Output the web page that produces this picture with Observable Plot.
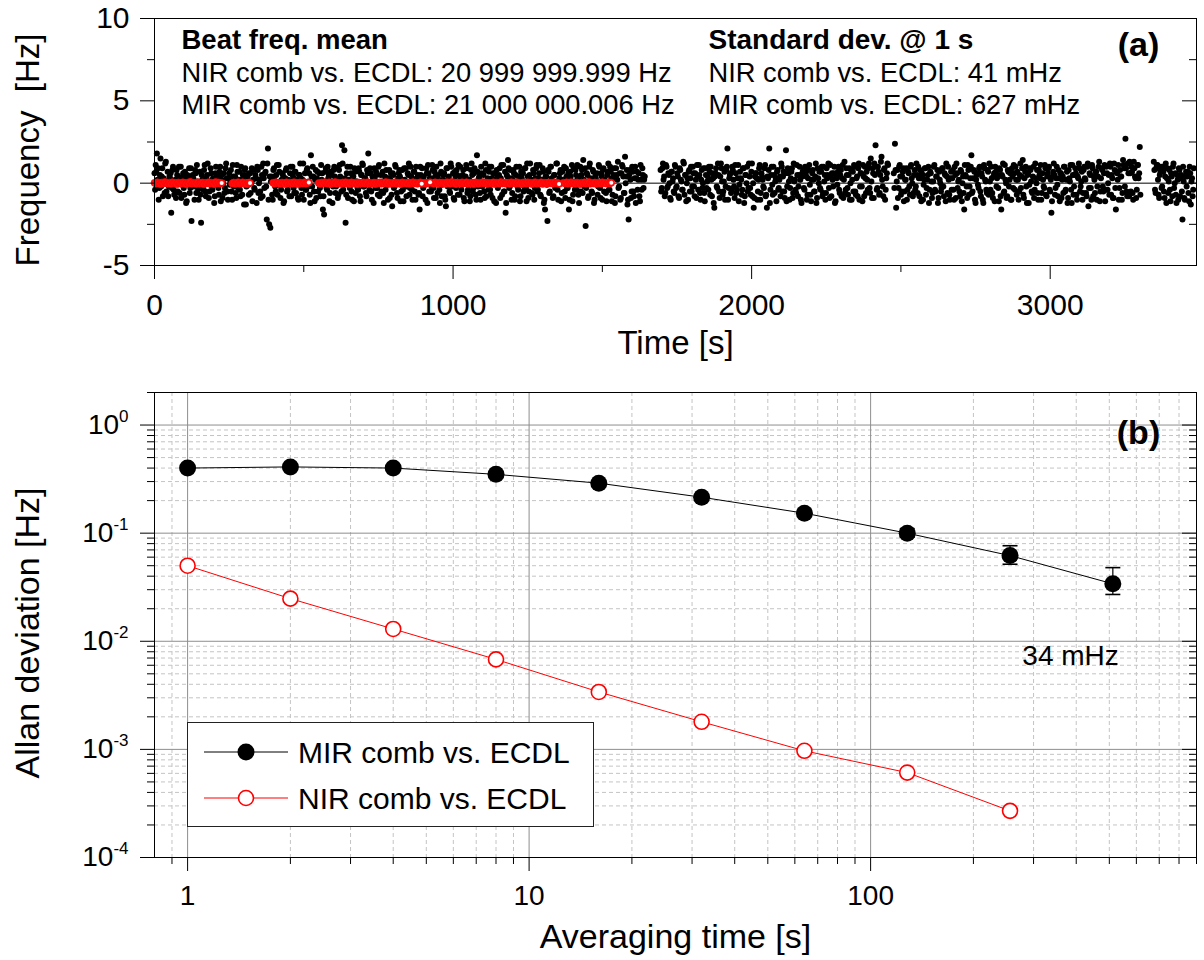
<!DOCTYPE html>
<html><head><meta charset="utf-8">
<script src="https://cdn.jsdelivr.net/npm/d3@7"></script>
<script src="https://cdn.jsdelivr.net/npm/@observablehq/plot@0.6"></script>
<style>
body{margin:0;background:#fff;}
#wrap{position:relative;width:1204px;height:960px;background:#fff;}
#wrap svg{display:block}
</style></head><body><div id="wrap"></div>
<script>
const FONT = '"Liberation Sans", Arial, Helvetica, sans-serif';

// ---------- Panel (a): beat frequency time series (offset from mean, Hz) ----------
// MIR comb vs. ECDL: segments sampled every mirStep seconds; second set interleaved (+2 s)
const mirStep = 4;
const mirSegStart = [0, 1695, 2476, 3347];
const mirSegA = [
.6,1.1,1.8,.9,-.3,1.5,.4,-.8,.2,1.2,-.5,.7,-.2,.3,-1.8,.8,-.4,.1,-.9,.5,
.3,-.6,1.0,-.1,.6,-.7,.2,-1.1,.4,.9,-.3,-2.3,.5,-.2,.8,-.6,.1,-1.0,.7,-2.4,
.2,-.4,1.1,-.8,.5,.0,-.5,.9,-.2,.3,-1.2,.6,-.1,.4,-.7,1.0,.2,-.9,.6,-.3,
1.2,-.5,.3,-.1,.8,-1.0,.4,.1,-.6,1.1,-.3,.7,-.8,.2,.5,-1.3,.9,-.2,.4,-.7,
.6,.0,-1.1,.8,-.4,.3,1.0,-.6,.2,-.9,.5,1.2,-.3,.7,-2.2,2.1,-2.5,-2.7,.4,-1.0,
.9,-.2,.5,-.7,1.1,.1,-.4,.6,-1.2,.3,.8,-.5,.2,-.8,1.0,-.1,.4,-.6,.7,.0,
-.9,.5,1.2,-.3,.2,-1.0,.6,-.4,.9,.1,-.7,1.7,-.2,.4,-1.1,.8,.3,-.5,.6,-.8,
.2,-1.6,-1.9,.7,-.3,1.0,.5,-.6,.1,-1.2,.8,.4,-.2,.9,-.7,1.1,.3,2.3,-.4,2.0,
-2.4,.6,-.9,.2,1.0,-.5,.4,-1.1,.7,.1,-.3,.9,-.8,.5,1.2,-.2,.3,-.6,.8,1.8,
-.4,.6,-1.0,.2,.9,-.3,.5,-.7,1.1,.0,-.5,.7,-1.2,.4,.8,-.1,.3,-.9,.6,-1.4,
.5,-.2,1.0,-.6,.3,.8,-1.1,.2,-.4,.9,.1,-.8,.6,1.2,-.3,.4,-1.0,.7,-.5,1.0,
.2,-.7,-1.6,.5,.9,-.3,.1,-1.0,.6,1.1,-.5,.3,-.2,.8,-.9,.4,1.0,-.6,.2,-1.2,
.7,-.1,.5,-.8,-1.4,.9,.3,-.5,1.2,-.2,.6,-1.0,.4,.8,-.7,.1,1.0,-.4,.5,-.9,
.3,1.1,-.6,.2,-1.1,.8,.5,-.3,.9,-.7,1.7,-.2,.4,-1.0,.6,.1,-.5,1.2,-.8,.3,
.7,-.4,1.0,-.9,.2,.6,-1.2,.4,-.1,.9,.3,-.7,1.1,-.5,-1.8,.5,1.4,-.3,.8,-1.0,
.2,.6,-.8,1.0,-.2,.4,-1.1,.7,.1,-.5,.9,-.3,1.2,-.9,.5,.0,-.6,.8,-1.0,.3,
1.1,-.4,.6,-.7,.2,.9,-1.2,-1.6,.4,-2.3,.7,-.5,1.0,.1,-.8,.5,-.2,1.2,-1.0,.3,
.8,-.6,.2,1.0,-.9,.4,-.3,-1.6,.7,.1,-1.1,.9,-.4,.5,1.1,-.7,.2,-.5,.8,1.4,
-.2,-2.6,.6,-.9,1.0,.3,-.5,.8,-1.2,.4,.1,-.7,1.1,-.3,.6,-1.0,.9,.2,-.6,.5,
1.2,-.4,.7,-1.1,.3,.9,-.8,.5,1.3,-.2,-1.0,.6,1.0,-.6,1.6,.4,-1.3,-2.2,.8,-.9,
1.0,-.5,.3,-1.2,.7,.2,-.8,1.1,-.4,.5,.2];
const mirSegB = [
.8,-.3,1.2,.4,-.6,1.0,-.2,.5,-.9,.7,.1,-.5,1.1,-.3,.6,-.8,.9,.2,-.4,1.3,
-.7,.5,.0,-1.0,.8,.3,-.5,1.0,-.2,.6,-.9,.4,1.1,-.6,.2,-.3,.9,-1.1,.5,.1,
-.4,.7,1.0,-.8,.3,-1.5,.6,-.2,1.2,-.5,.4,.9,-.7,.1,-1.0,.8,2.1,-.3,.5,-.6,
1.0,.2,-.9,.6,-.4,1.1,-.1,.3,-.7,.9,-1.2,.5,.0,-.5,1.2,-.3,.7,-.8,-1.5,.4,
.6,-1.0,.2,1.1,-.6,.4,-.2,.9,-.8,-1.5,.3,2.1,-.4,1.0,-.7,.5,.1,-1.1,.8,-.3,
.4,1.2,-.5,.7,-.9,2.0,-.2,.6,-1.0,.3,.9,-.6,.1,-.4,1.1,-.8,.5,.2,-1.2,.7,
-.3,1.0,.4,-.7,.8,-.1,-1.1,.6,.2,-.5,1.2,-.9,.3,.7,-.4,1.0,-.6,.1,-1.0,.9,
.5,-.3,1.1,-.8,.2,.6,-1.2,.4,-.1,1.0,-.6,.8,.3,-.9,1.3,-.4,.5,-.7,.9,.0,
-1.0,.7,1.1,-.5,.3,-.8,1.2,-.2,.6,-1.1,.4,1.0,-.6,.2,.9,-.3,1.5,-.9,.6,1.2,
2.3,-.4,1.0,-.7,.5,1.6,-.2,.8,-1.0,.3,1.2];
const mirSegC = [
.6,2.4,-1.5,.8,-.3,1.1,-.7,.4,.9,-.5,.2,-1.0,.7,-.2,1.0,.3,-.8,.5,-.4,1.2,
-.6,.3,.8,-1.1,.5,-.1,.9,-.7,.2,1.0,-.4,.6,-.9,.1,1.1,-.5,.4,-1.2,.7,.0,
-.3,.9,-.8,.5,1.2,-.6,.2,-1.0,.7,.3,-.4,1.0,-.9,.6,.1,-.5,.8,-1.1,.4,-1.6,
.5,-.2,1.1,-.7,.3,1.7,-.5,.8,-1.0,.2,.6,-.3,1.0,-.8,.4,-1.2,.9,.1,-.6,.7,
1.2,-.4,.3,-.9,.6,1.0,-.2,.5,-1.1,.8,-1.6,.4,-.6,1.1,.0,-.8,.7,.2,-1.0,.9,
-.3,.6,1.0,-.7,.2,-.5,1.2,.4,1.4,-.9,.7,-.2,.5,-1.2,.9,.1,-.6,1.0,-.4,.3,
.8,-1.0,.5,1.1,-.6,.2,-.3,.9,-.8,.6,1.0,-.5,-1.8,.4,1.2,-.7,.3,-.1,.8,-1.1,
.6,.2,-.6,1.0,-.4,.7,-.9,.3,1.1,-1.2,.5,-.2,.9,-.7,.4,1.2,-.5,.1,-1.0,.8,
.3,-.6,1.0,-1.4,.6,-.3,1.1,-.8,.2,.7,-1.0,.4,1.3,-.5,.9,-.2,.6,-1.1,1.0,-.4,
.5,1.2,-.7,.3,-.9,.8,-1.6,.6,1.1,-.3,.4,-1.0,1.4,.9,2.7,-.5,1.2,-.8,.6,1.0,
-.6,1.3,.4,-.9,1.1,.3,2.2];
const mirSegD = [
1.3,-.4,.9,1.1,-.7,.5,1.0,-.2,.7,-.9,1.2,.3,-.6,.8,-1.1,.4,1.0,-.3,.6,-1.2,
.2,.9,-.8,.5,-2.2,.1,-1.0,.7,.4,-.6,1.0,-1.3,.3,-.4];
const mirSegA2 = [
-.4,.7,.2,-1.0,.5,-.2,.9,.3,-.6,1.3,.0,-.8,.4,.6,-.3,1.0,-.7,.2,.8,-.5,
1.0,.1,-.9,.4,-.3,.7,-1.2,.5,.2,-.6,.9,-.1,.3,-1.0,.6,1.1,-.4,.0,-.7,.5,
-.2,.8,-.5,.3,1.2,-.9,.1,.6,-.4,.2,-.8,1.0,.4,-.3,.7,-1.1,.5,.0,-.6,.9,
.3,-1.0,.6,.1,-.5,1.1,-.2,.4,-.9,.7,.2,-.4,1.0,-.7,.3,.8,-1.3,.5,-.1,.6,
-.6,.9,.2,-.3,.5,-1.2,.8,.0,-.5,1.0,-.8,.3,.6,-.2,1.2,-1.0,.4,.1,-.7,.8,
.4,-.5,1.1,-.1,.7,-.9,.2,.5,-1.1,.3,.9,-.4,.0,.6,-.8,1.0,-.3,.7,-.6,.2,
-1.0,.5,.3,-.7,1.2,.1,-.4,.8,-.2,.6,-1.2,.4,1.0,-.5,.2,-.9,.7,.0,-.3,1.1,
.6,-.8,.1,.9,-.4,.3,-1.1,.7,.5,-.2,1.0,-.6,.2,-.9,.8,.4,-.5,1.2,-.1,.3,
-.7,1.0,.2,-.3,.6,-1.0,.4,.9,-.6,.1,-.4,.7,-1.1,.5,1.1,-.2,.3,-.8,.6,.0,
.9,-.5,.4,-1.2,.2,.7,-.3,1.0,-.8,.5,.1,-.6,1.2,-.4,.3,-1.0,.8,.2,-.7,.6,
-.3,1.1,.0,-.9,.6,.4,-.5,.8,-1.1,.2,.9,-.2,.5,-.7,1.0,-.4,.1,.7,-1.0,.3,
.5,-.6,1.0,.2,-.8,.4,-.1,.9,-1.2,.6,.3,-.5,1.1,-.3,.7,-.9,.0,.5,-.4,1.2,
-.8,.2,.6,-1.0,.9,-.2,.4,-.6,1.0,.1,-.9,.7,-.3,.5,1.1,-.7,.3,-.1,.8,-1.1,
.4,.9,-.4,.2,-.8,1.2,-.5,.6,.0,-1.0,.7,.3,-.6,1.0,-.2,.5,-.9,.8,.1,-.4,
1.0,-.7,.3,.6,-1.1,.2,.8,-.3,.5,-.9,1.1,.0,-.5,.7,-1.2,.4,.9,-.2,.3,-.6,
.8,-1.0,.5,.1,-.4,1.0,-.8,.3,.6,-.2,.9,-1.1,.4,-.5,1.2,.2,-.7,.6,-.3,.9,
-.5,.3,1.1,-.8,.2,.7,-1.0,.4,-.1,.8,-.6,1.0,.3,-.9,.5,-.3,1.2,-.4,.0,.6,
-1.1,.7,.2,-.5,.9,-.3,.6,-1.0,.4,1.1,-.7,.1,.8,-.4,.3,-1.2,1.0,.5,-.6,.2,
.9,-.3,.5,-.8,1.2,.0,-.6,.7,-1.0,.3,.6,-.2,1.0,-.9,.4,.8,-.5,.1,-1.1,.7,
-.4,1.0,.3,-.7,.5,-1.2,.9,.2,-.3,.6,-.9,1.1,.4,-.6,.0,.8,-1.0,.5,.2,-.5,
.7,-.8,1.0,.3,-.4,.6,-1.1,.2,.9,-.3,.4];
const mirSegB2 = [
-.5,.9,.2,-.8,1.1,-.3,.6,.0,-1.0,.7,.3,-.6,1.0,-.2,.4,-.9,.8,.1,-.4,1.2,
.5,-1.1,.3,.7,-.5,1.0,-.2,.6,-.8,.2,1.1,-.4,.5,-1.0,.8,.0,-.6,.9,-.3,.4,
1.0,-.7,.2,.6,-1.2,.4,.9,-.3,.5,-.9,1.2,.1,-.5,.7,-.2,1.0,-1.0,.3,.6,-.4,
.8,-.2,1.1,-.6,.3,-1.1,.7,.2,-.4,.9,-.8,.5,1.0,-.3,.4,-.7,1.2,.0,-.9,.6,
.3,-.5,.9,-1.0,.6,.2,-.3,1.1,-.7,.4,.8,-1.2,.5,-.1,1.0,-.6,.3,.7,-.4,.2,
-.8,1.0,.4,-.5,.6,-1.1,.9,.1,-.3,.7,-.9,1.2,.2,-.6,.5,-.2,1.0,-1.0,.4,.8,
-.4,.6,-1.0,.3,1.1,-.7,.2,.8,-.5,.4,-1.2,.9,.0,-.3,.7,-.8,1.0,.5,-.6,.3,
1.2,-.9,.4,.6,-.2,1.0,-1.1,.3,.7,-.4,.5,-.8,1.1,.2,-.6,.9,-.3,.5,-1.0,.8,
.2,-.5,1.0,-.7,.4,.9,-1.0,.6,-.2,1.1,-.8,.3,.7,-.4,1.2,-.6,.1,.9,-.9,.5,
1.0,-.3,.7,-.6,1.3,.2,-.8,.9,-.4,.6,1.1];
const mirSegC2 = [
-.3,.8,.1,-.9,1.0,.4,-.5,.7,-1.1,.2,.9,-.4,.6,-.7,1.1,.0,-.6,.8,-.2,.5,
1.0,-.8,.3,.6,-1.0,.2,.9,-.3,.5,-1.2,.7,.1,-.6,1.0,-.4,.4,.8,-.9,.2,-.5,
.9,-.2,.6,-1.1,.4,1.0,-.7,.3,-.4,.8,-1.0,.5,1.2,-.3,.2,-.8,.7,.0,-.6,1.1,
.4,-.9,.8,-.2,1.0,-.6,.3,.7,-1.2,.5,-.1,.9,-.5,.6,-1.0,1.1,.2,-.4,.8,-.7,
.1,1.0,-.6,.4,-1.1,.7,.3,-.3,.9,-.8,.5,1.2,-.5,.2,-.9,.8,-.2,.6,-1.0,.4,
1.1,-.4,.2,.7,-1.0,.5,-.3,.9,-.7,.3,1.0,-1.2,.6,-.1,.8,-.5,.4,-.9,1.2,.0,
-.6,.8,.3,-1.0,.6,-.2,1.1,-.7,.4,.9,-.4,.2,-1.1,.7,.5,-.3,1.0,-.8,.3,.6,
-.9,.4,1.0,-.5,.2,-1.2,.8,.1,-.4,1.1,-.7,.5,.6,-1.0,.3,.9,-.2,.7,-.6,1.0,
.2,-.8,1.2,-.3,.5,-1.0,.9,.4,-.6,.7,-.2,1.0,-1.1,.3,.8,-.5,1.1,-.4,.6,.0,
-.7,1.0,.5,-.9,1.2,-.3,.7,.2,-1.0,.8,.4,-.6,1.1,-.2,.9,-.8,.6,1.3,-.5,.7,
-1.0,.9,.3,-.4,1.1,.6,-.7];
const mirSegD2 = [
.8,-.6,1.1,.2,-.9,.7,-.3,1.0,-.5,.4,-1.2,.9,.1,-.4,.6,-.8,1.2,.0,-.7,.5,
-1.0,.8,.3,-.5,1.0,-.9,.4,-.2,.7,-1.1,.6,.1,-.8,.9];
const mirSegs = [mirSegA, mirSegB, mirSegC, mirSegD];
const mirSegs2 = [mirSegA2, mirSegB2, mirSegC2, mirSegD2];
const mirOffset2 = 2;

// NIR comb vs. ECDL: segments sampled every nirStep seconds
const nirStep = 5;
const nirSegStart = [0, 260, 397, 550, 903, 935, 1370];
const nirSeg1 = [.02,-.03,.05,.01,-.06,.04,-.02,.07,.00,-.04,.03,-.05,.06,-.01,.02,-.07,.04,.00,-.03,.05,.01,-.06,.03,-.02,.08,-.04,.02,.00,-.05,.06,-.03,.01,.04,-.07,.02,-.01,.05,-.04,.03,.00,-.06,.07,-.02,.04,-.03,.01];
const nirSeg2 = [-.02,.04,-.05,.01,.06,-.03,.00,.05,-.04,.02,-.06,.03,.01];
const nirSeg3 = [.03,-.04,.06,-.01,.02,-.05,.04,.00,-.07,.05,-.02,.03,.01,-.04,.06,-.03,.02,-.06,.04,.00,-.02,.05,-.03,.01,.04];
const nirSeg4 = [.01,-.05,.04,-.02,.06,.00,-.03,.05,-.06,.02,-.01,.07,-.04,.03,.00,-.05,.04,-.02,.06,-.03,.02,-.06,.05,.01,-.04,.03,-.07,.04,.00,-.02,.05,-.03,.02,.06,-.05,.01,-.02,.04,-.06,.03,.00,.05,-.04,.02,-.01,.07,-.03,.04,-.05,.01,-.02,.06,-.04,.03,.00,-.06,.05,-.01,.02,-.03,.04,-.05,.01,.06,-.02,.03,-.04,.00,.05,-.03];
const nirSeg5 = [.02,-.04,.03,-.01,.05];
const nirSeg6 = [-.03,.05,.01,-.06,.04,-.02,.03,.00,-.05,.06,.02,-.04,.07,-.01,.03,-.06,.04,.01,-.03,.05,-.02,.00,.06,-.05,.02,-.03,.04,-.07,.05,.01,-.04,.03,-.01,.06,-.02,.04,-.05,.02,.00,-.03,.05,-.06,.03,.01,-.04,.07,-.02,.04,-.03,.00,.02,-.05,.06,-.01,.03,-.04,.05,-.02,.01,-.06,.04,.00,-.03,.05,-.01,.02,-.06,.03,.06,-.04,.01,-.02,.05,-.05,.03,.00,-.03,.04,-.01,.02,-.04,.06,-.02,.03,-.05];
const nirSeg7 = [.03,-.02,.05,-.04,.01,.06,-.03,.02,-.05,.04,.00,-.06,.03,-.01,.05,-.03,.02,.07,-.04,.01,-.02,.04,-.05,.03,.00,-.03,.06,-.01,.02,-.04,.05,-.02,.03];
const nirSegs = [nirSeg1, nirSeg2, nirSeg3, nirSeg4, nirSeg5, nirSeg6, nirSeg7];

const aYMajor = [-5, 0, 5, 10];
const aYMinor = [-2.5, 2.5, 7.5];
const aXMajor = [0, 1000, 2000, 3000];
const aXMinor = [500, 1500, 2500];

const beatTitle = "Beat freq. mean";
const beatNIR = "NIR comb vs. ECDL: 20 999 999.999 Hz";
const beatMIR = "MIR comb vs. ECDL: 21 000 000.006 Hz";
const sdTitle = "Standard dev. @ 1 s";
const sdNIR = "NIR comb vs. ECDL: 41 mHz";
const sdMIR = "MIR comb vs. ECDL: 627 mHz";

// ---------- Panel (b): Allan deviation ----------
const tauMIR = [1, 2, 4, 8, 16, 32, 64, 128, 256, 512];
const adevMIR = [0.40, 0.41, 0.40, 0.35, 0.29, 0.215, 0.153, 0.100, 0.062, 0.034];
const tauNIR = [1, 2, 4, 8, 16, 32, 64, 128, 256];
const adevNIR = [0.050, 0.0248, 0.013, 0.0068, 0.0034, 0.0018, 0.00097, 0.00061, 0.00027];
const errTau = [128, 256, 512];
const errLo = [0.092, 0.0516, 0.0271];
const errHi = [0.110, 0.0765, 0.048];
const lastLabel = "34 mHz";

const bXMajor = [1, 10, 100];
const bXMinor = [0.9, 2, 3, 4, 5, 6, 7, 8, 9, 20, 30, 40, 50, 60, 70, 80, 90, 200, 300, 400, 500, 600, 700, 800, 900];
const bYMajor = [1e-4, 1e-3, 1e-2, 1e-1, 1];
const bYMinor = [2e-4,3e-4,4e-4,5e-4,6e-4,7e-4,8e-4,9e-4,2e-3,3e-3,4e-3,5e-3,6e-3,7e-3,8e-3,9e-3,2e-2,3e-2,4e-2,5e-2,6e-2,7e-2,8e-2,9e-2,0.2,0.3,0.4,0.5,0.6,0.7,0.8,0.9,2];

const legendLabels = ["MIR comb vs. ECDL", "NIR comb vs. ECDL"];

// ---------- build tables ----------
const mirRows = [];
mirSegs.forEach((vals, s) => vals.forEach((v, i) => mirRows.push({t: mirSegStart[s] + i * mirStep, f: v})));
mirSegs2.forEach((vals, s) => vals.forEach((v, i) => mirRows.push({t: mirSegStart[s] + mirOffset2 + i * mirStep, f: v})));
const nirRows = [], nirEnds = [];
nirSegs.forEach((vals, s) => vals.forEach((v, i) => {
  const r = {t: nirSegStart[s] + i * nirStep, f: v};
  nirRows.push(r);
  if (i === vals.length - 1) nirEnds.push(r);
}));
const mirAllan = tauMIR.map((t, i) => ({tau: t, v: adevMIR[i]}));
const nirAllan = tauNIR.map((t, i) => ({tau: t, v: adevNIR[i]}));
const errRows = errTau.map((t, i) => ({tau: t, lo: errLo[i], hi: errHi[i]}));

const W = 1204, ML = 154, MR = 8;
const PW = W - ML - MR;
const blank = () => "";
const plain = d => String(d);

// ---------- Panel (a) ----------
const chartA = Plot.plot({
  width: W, height: 370, marginLeft: ML, marginRight: MR, marginTop: 18, marginBottom: 105,
  style: {fontFamily: FONT, background: "white", overflow: "visible", color: "black"},
  x: {domain: [0, 3490], label: null},
  y: {domain: [-5, 10], label: null},
  marks: [
    Plot.ruleY([0], {stroke: "black", strokeWidth: 1}),
    Plot.dot(mirRows, {x: "t", y: "f", r: 3, fill: "black", stroke: null}),
    Plot.dot(nirRows, {x: "t", y: "f", r: 3.5, fill: "#ff1010", stroke: "#ff0000", strokeWidth: 0.6}),
    Plot.dot(nirEnds, {x: "t", y: "f", r: 2, fill: "white", stroke: null}),
    Plot.frame({stroke: "black", strokeWidth: 1}),
    Plot.axisY({ticks: aYMajor, tickSize: 14, tickPadding: 11, fontSize: 30, label: null, tickFormat: plain}),
    Plot.axisY({ticks: aYMinor, tickSize: 7, tickFormat: blank, label: null}),
    Plot.tickY(aYMajor, {y: d => d, insetLeft: PW - 14, stroke: "black"}),
    Plot.tickY(aYMinor, {y: d => d, insetLeft: PW - 7, stroke: "black"}),
    Plot.axisX({ticks: aXMajor, tickSize: 14, tickPadding: 14, fontSize: 30, label: null, tickFormat: plain}),
    Plot.axisX({ticks: aXMinor, tickSize: 7, tickFormat: blank, label: null}),
    Plot.text(["Time [s]"], {frameAnchor: "bottom", dy: 78, fontSize: 33, lineAnchor: "middle"}),
    Plot.text(["Frequency\u00a0 [Hz]"], {frameAnchor: "left", rotate: -90, dx: -126, dy: 8, fontSize: 33, textAnchor: "middle", lineAnchor: "middle"}),
    Plot.text([beatTitle], {frameAnchor: "top-left", textAnchor: "start", lineAnchor: "middle", dx: 27, dy: 22, fontSize: 27.5, fontWeight: "bold"}),
    Plot.text([beatNIR], {frameAnchor: "top-left", textAnchor: "start", lineAnchor: "middle", dx: 27, dy: 55, fontSize: 27.3}),
    Plot.text([beatMIR], {frameAnchor: "top-left", textAnchor: "start", lineAnchor: "middle", dx: 27, dy: 87, fontSize: 27.3}),
    Plot.text([sdTitle], {frameAnchor: "top-left", textAnchor: "start", lineAnchor: "middle", dx: 554, dy: 22, fontSize: 28, fontWeight: "bold"}),
    Plot.text([sdNIR], {frameAnchor: "top-left", textAnchor: "start", lineAnchor: "middle", dx: 554, dy: 55, fontSize: 27.3}),
    Plot.text([sdMIR], {frameAnchor: "top-left", textAnchor: "start", lineAnchor: "middle", dx: 554, dy: 87, fontSize: 27.3}),
    Plot.text(["(a)"], {frameAnchor: "top-right", textAnchor: "middle", lineAnchor: "middle", dx: -58, dy: 27, fontSize: 34, fontWeight: "bold"})
  ]
});

// ---------- Panel (b) ----------
const capSymbol = {draw(ctx) { ctx.moveTo(-7.5, 0); ctx.lineTo(7.5, 0); }};
const chartB = Plot.plot({
  width: W, height: 590, marginLeft: ML, marginRight: MR, marginTop: 22, marginBottom: 103,
  style: {fontFamily: FONT, background: "white", overflow: "visible", color: "black"},
  x: {type: "log", domain: [0.8, 900], label: null},
  y: {type: "log", domain: [1e-4, 2], label: null},
  marks: [
    Plot.ruleX(bXMinor, {x: d => d, stroke: "#c4c4c4", strokeDasharray: "4,3"}),
    Plot.ruleY(bYMinor, {y: d => d, stroke: "#c4c4c4", strokeDasharray: "4,3"}),
    Plot.ruleX(bXMajor, {x: d => d, stroke: "#8e8e8e"}),
    Plot.ruleY(bYMajor, {y: d => d, stroke: "#8e8e8e"}),
    Plot.line(mirAllan, {x: "tau", y: "v", stroke: "black", strokeWidth: 1}),
    Plot.line(nirAllan, {x: "tau", y: "v", stroke: "red", strokeWidth: 1}),
    Plot.ruleX(errRows, {x: "tau", y1: "lo", y2: "hi", stroke: "black", strokeWidth: 1.2}),
    Plot.dot(errRows, {x: "tau", y: "hi", symbol: capSymbol, fill: "none", stroke: "black", strokeWidth: 1.6}),
    Plot.dot(errRows, {x: "tau", y: "lo", symbol: capSymbol, fill: "none", stroke: "black", strokeWidth: 1.6}),
    Plot.dot(mirAllan, {x: "tau", y: "v", r: 8.5, fill: "black", stroke: null}),
    Plot.dot(nirAllan, {x: "tau", y: "v", r: 7.5, fill: "white", stroke: "red", strokeWidth: 1.6}),
    Plot.frame({stroke: "black", strokeWidth: 1}),
    Plot.axisY({ticks: bYMajor, tickSize: 14, tickPadding: 12, fontSize: 28, label: null,
      tickFormat: d => "10^" + Math.round(Math.log10(d))}),
    Plot.axisY({ticks: bYMinor, tickSize: 7, tickFormat: blank, label: null}),
    Plot.tickY(bYMajor, {y: d => d, insetLeft: PW - 14, stroke: "black"}),
    Plot.tickY(bYMinor, {y: d => d, insetLeft: PW - 7, stroke: "black"}),
    Plot.axisX({ticks: bXMajor, tickSize: 14, tickPadding: 14, fontSize: 28, label: null, tickFormat: plain}),
    Plot.axisX({ticks: bXMinor, tickSize: 7, tickFormat: blank, label: null}),
    Plot.text(["Averaging time [s]"], {frameAnchor: "bottom", dy: 80, fontSize: 34, lineAnchor: "middle"}),
    Plot.text(["Allan deviation [Hz]"], {frameAnchor: "left", rotate: -90, dx: -126, dy: 8, fontSize: 34, textAnchor: "middle", lineAnchor: "middle"}),
    Plot.text([mirAllan[mirAllan.length - 1]], {x: "tau", y: "v", text: () => lastLabel, textAnchor: "end", lineAnchor: "middle", dx: 6, dy: 72, fontSize: 28}),
    Plot.text(["(b)"], {frameAnchor: "top-right", textAnchor: "middle", lineAnchor: "middle", dx: -58, dy: 41, fontSize: 34, fontWeight: "bold"})
  ]
});

// superscript exponents on the log-axis tick labels
d3.select(chartB).selectAll('g[aria-label="y-axis tick label"] text').each(function() {
  const s = this.textContent;
  if (s.startsWith("10^")) {
    const e = s.slice(3);
    this.textContent = "10";
    d3.select(this).append("tspan").attr("dy", -12).attr("font-size", "17px").text(e);
  }
});

const wrap = document.getElementById("wrap");
wrap.appendChild(chartA);
wrap.appendChild(chartB);

// ---------- legend (inside panel b) ----------
const lg = d3.select(wrap).append("svg")
  .attr("width", 407).attr("height", 105)
  .style("position", "absolute").style("left", "187px").style("top", "722px")
  .style("font-family", FONT);
lg.append("rect").attr("x", 0.5).attr("y", 0.5).attr("width", 406).attr("height", 104)
  .attr("fill", "white").attr("stroke", "#222").attr("stroke-width", 1);
const rowsY = [30, 76];
const styles = [
  {line: "black", fill: "black", stroke: "none", r: 8.5},
  {line: "red", fill: "white", stroke: "red", r: 7.5}
];
legendLabels.forEach((lab, i) => {
  const y = rowsY[i], st = styles[i];
  lg.append("line").attr("x1", 17).attr("x2", 101).attr("y1", y).attr("y2", y).attr("stroke", st.line).attr("stroke-width", 1);
  lg.append("circle").attr("cx", 59).attr("cy", y).attr("r", st.r).attr("fill", st.fill).attr("stroke", st.stroke).attr("stroke-width", 1.6);
  lg.append("text").attr("x", 111).attr("y", y).attr("dy", "0.36em").attr("font-size", 30).attr("fill", "black").text(lab);
});
</script></body></html>
